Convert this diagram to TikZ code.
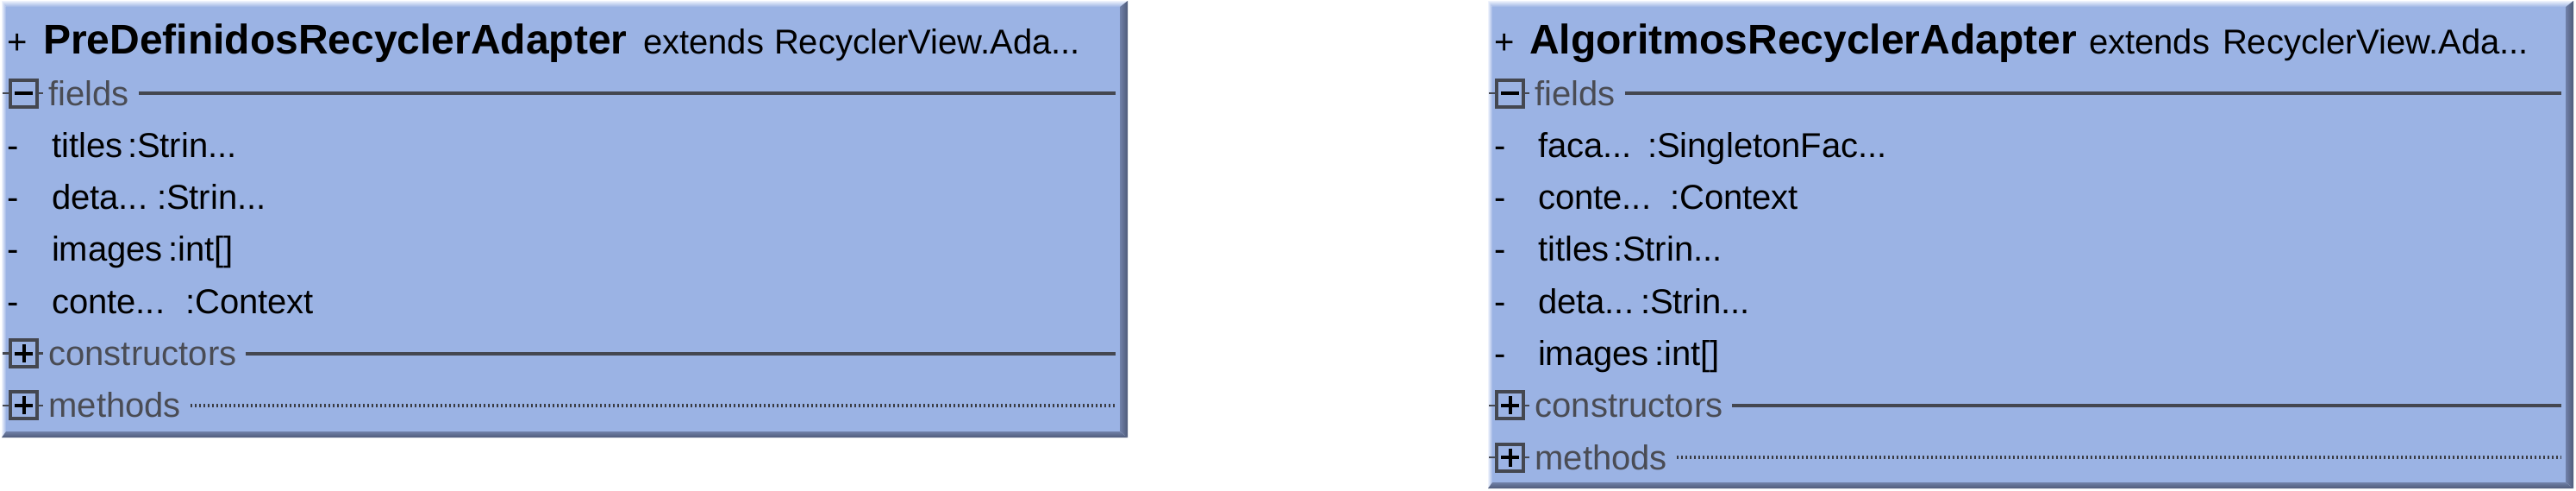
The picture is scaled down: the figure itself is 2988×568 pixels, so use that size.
\documentclass[tikz,border=0pt]{standalone}
\usepackage{fontspec}
\setmainfont{Liberation Sans}
\definecolor{boxfill}{RGB}{155,179,228}
\definecolor{hdrgray}{RGB}{74,76,84}
\definecolor{linegray}{RGB}{68,71,80}
\definecolor{bevdark}{RGB}{78,90,120}
\definecolor{bevmid}{RGB}{112,128,168}
\definecolor{bevlight}{RGB}{238,242,252}
\tikzset{
  txt/.style={inner sep=0pt, outer sep=0pt, anchor=base west, font=\fontsize{40}{48}\selectfont, text=black},
  ttl/.style={inner sep=0pt, outer sep=0pt, anchor=base west, font=\fontsize{48}{56}\selectfont\bfseries, text=black},
  hdr/.style={inner sep=0pt, outer sep=0pt, anchor=base west, font=\fontsize{40}{48}\selectfont, text=hdrgray},
  icon/.style={draw=linegray, line width=4pt, minimum width=31pt, minimum height=31pt, inner sep=0pt, outer sep=0pt},
  tick/.style={draw=linegray, line width=2.5pt},
  sym/.style={draw=black, line width=4pt},
  solidsep/.style={draw=linegray, line width=4pt},
  dotsep/.style={draw=linegray!85!black, line width=3.5pt, dash pattern=on 2.5pt off 2.5pt}
}
% box frame: #1 inner width, #2 inner bottom
\newcommand\umlframe[2]{%
  \shade[top color=bevlight, bottom color=boxfill] (-5,1) -- (#1+9,1) -- (#1,8) -- (0,8) -- cycle;
  \shade[left color=bevlight, right color=boxfill] (-5,1) -- (0,8) -- (0,#2) -- (-5,#2+7) -- cycle;
  \shade[left color=bevmid, right color=bevdark] (#1+9,1) -- (#1+9,#2+7) -- (#1,#2) -- (#1,8) -- cycle;
  \shade[top color=bevmid, bottom color=bevdark] (-5,#2+7) -- (#1+9,#2+7) -- (#1,#2) -- (0,#2) -- cycle;
  \fill[boxfill] (0,8) rectangle (#1,#2);
}
% section header: #1 name, #2 y centre, #3 label, #4 sign (+ or -), #5 line style, #6 inner width
\newcommand\umlsect[6]{%
  \node[icon] (#1) at (20.5,#2) {};
  \coordinate (#1-tl) at (-4,#2);
  \coordinate (#1-tr) at (43,#2);
  \draw[tick] (#1.west) -- (#1-tl);
  \draw[tick] (#1.east) -- (#1-tr);
  \coordinate (#1-ml) at (10,#2);
  \coordinate (#1-mr) at (31,#2);
  \draw[sym] (#1-ml) -- (#1-mr);
  \if+#4
    \coordinate (#1-mt) at (20.5,#2-10.5);
    \coordinate (#1-mb) at (20.5,#2+10.5);
    \draw[sym] (#1-mt) -- (#1-mb);
  \fi
  \node[hdr] (#1-lbl) at (49.5,#2+14) {#3};
  \coordinate (#1-s) at ([xshift=11pt]#1-lbl.east);
  \coordinate (#1-e) at (#6-5,#2);
  \draw[#5] (#1-s |- #1.center) -- (#1-e);
}
% field row: #1 name, #2 y centre, #3 field name, #4 x of type, #5 type
\newcommand\umlfield[5]{%
  \node[txt] (#1-d) at (2,#2+14) {-};
  \node[txt] (#1-n) at (53,#2+14) {#3};
  \node[txt] (#1-t) at (#4,#2+14) {#5};
}
\begin{document}
\begin{tikzpicture}[x=1pt,y=-1pt]
\useasboundingbox (0,0) rectangle (2988,568);
\fill[white] (0,0) rectangle (2988,568);

% ---------- left class ----------
\begin{scope}[shift={(7,0)}]
  \umlframe{1292}{500}
  \node[txt] (a-plus) at (2,62) {+};
  \node[ttl] (a-name) at (43,62) {PreDefinidosRecyclerAdapter};
  \node[txt] (a-ext) at (739,62) {extends};
  \node[txt] (a-sup) at (891,62) {RecyclerView.Ada...};
  \umlsect{a-fields}{108}{fields}{-}{solidsep}{1292}
  \umlfield{a-f1}{168.3}{titles}{141}{:Strin...}
  \umlfield{a-f2}{228.6}{deta...}{175}{:Strin...}
  \umlfield{a-f3}{288.9}{images}{188}{:int[]}
  \umlfield{a-f4}{349.2}{conte...}{208}{:Context}
  \umlsect{a-cons}{409.5}{constructors}{+}{solidsep}{1292}
  \umlsect{a-meth}{469.8}{methods}{+}{dotsep}{1292}
\end{scope}

% ---------- right class ----------
\begin{scope}[shift={(1731,0)}]
  \umlframe{1245}{559}
  \node[txt] (b-plus) at (2,62) {+};
  \node[ttl] (b-name) at (43,62) {AlgoritmosRecyclerAdapter};
  \node[txt] (b-ext) at (692,62) {extends};
  \node[txt] (b-sup) at (847,62) {RecyclerView.Ada...};
  \umlsect{b-fields}{108}{fields}{-}{solidsep}{1245}
  \umlfield{b-f1}{168.3}{faca...}{180}{:SingletonFac...}
  \umlfield{b-f2}{228.6}{conte...}{206}{:Context}
  \umlfield{b-f3}{288.9}{titles}{140}{:Strin...}
  \umlfield{b-f4}{349.2}{deta...}{172}{:Strin...}
  \umlfield{b-f5}{409.5}{images}{188}{:int[]}
  \umlsect{b-cons}{469.8}{constructors}{+}{solidsep}{1245}
  \umlsect{b-meth}{530.1}{methods}{+}{dotsep}{1245}
\end{scope}
\end{tikzpicture}
\end{document}
